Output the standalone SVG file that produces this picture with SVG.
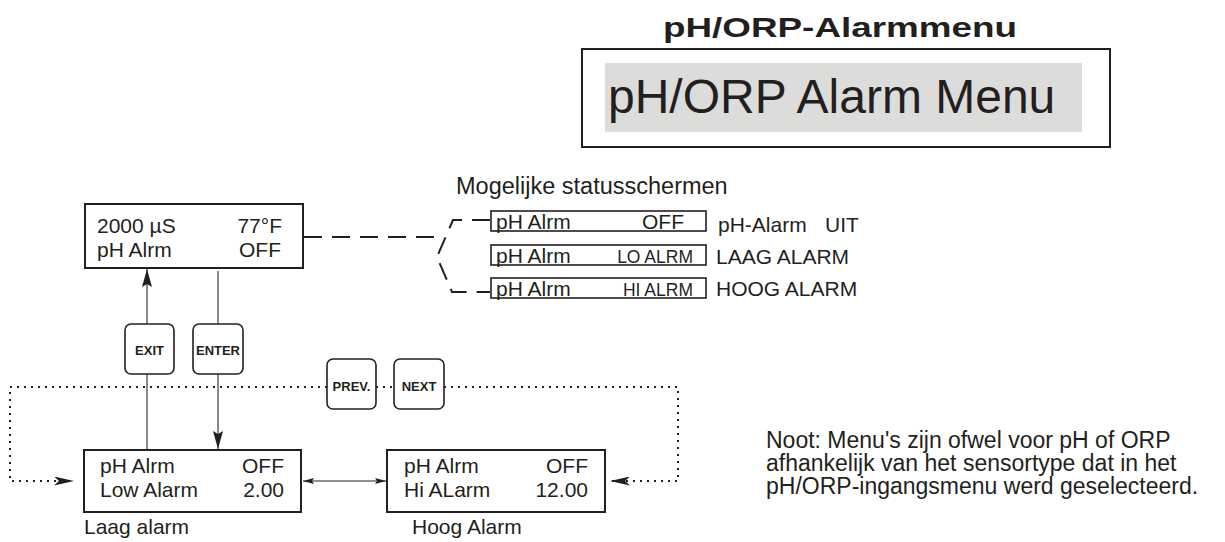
<svg xmlns="http://www.w3.org/2000/svg" width="1225" height="542" viewBox="0 0 1225 542">
<style>
text{font-family:"Liberation Sans",Arial,sans-serif;fill:#231f20}
.box{fill:#fff;stroke:#231f20;stroke-width:2}
.sbox{fill:#fff;stroke:#231f20;stroke-width:1.6}
.btn{fill:#fff;stroke:#231f20;stroke-width:1.6}
.lcd{font-size:21px}
.small{font-size:17.5px}
.btxt{font-size:13px;font-weight:bold;text-anchor:middle}
.lbl{font-size:21px}
.note{font-size:23px}
.gray{stroke:#8a8a8a;stroke-width:2;fill:none}
.dash{stroke:#231f20;stroke-width:2;fill:none;stroke-dasharray:18 10}
.dot{stroke:#231f20;stroke-width:2;fill:none;stroke-dasharray:2 5}
.thin{stroke:#231f20;stroke-width:1.2;fill:none}
.end{text-anchor:end}
</style>
<defs>
<marker id="ahBig" viewBox="0 0 18 10" refX="18" refY="5" markerWidth="18" markerHeight="10" markerUnits="userSpaceOnUse" orient="auto">
<path d="M0,0 L18,5 L0,10 L3,5 z" fill="#231f20"/>
</marker>
<marker id="ahDot" viewBox="0 0 20 9" refX="20" refY="4.5" markerWidth="20" markerHeight="9" markerUnits="userSpaceOnUse" orient="auto">
<path d="M0,0 L20,4.5 L0,9 L5,4.5 z" fill="#231f20"/>
</marker>
<marker id="ahSm" viewBox="0 0 11 6" refX="11" refY="3" markerWidth="11" markerHeight="6" markerUnits="userSpaceOnUse" orient="auto-start-reverse">
<path d="M0,0 L11,3 L0,6 L2,3 z" fill="#231f20"/>
</marker>
</defs>

<g id="title">
<text x="663" y="37" font-size="28" font-weight="bold" textLength="354" lengthAdjust="spacingAndGlyphs">pH/ORP-Alarmmenu</text>
</g>

<g id="menu-header">
<rect x="582" y="49" width="528" height="98" fill="#fff" stroke="#231f20" stroke-width="2"/>
<rect x="605" y="63" width="477" height="69" fill="#dcdcdb"/>
<text x="608" y="113" font-size="48">pH/ORP Alarm Menu</text>
</g>

<g id="connectors">
<line class="gray" x1="147" y1="324" x2="147" y2="269" marker-end="url(#ahBig)"/>
<line class="gray" x1="218" y1="271" x2="218" y2="324"/>
<line class="gray" x1="147" y1="374" x2="147" y2="450"/>
<line class="gray" x1="218" y1="374" x2="218" y2="449" marker-end="url(#ahBig)"/>
<line class="dash" x1="304" y1="237" x2="437" y2="237"/>
<path class="dash" d="M490,220 H453 L437,257 L452,292 H490"/>
<path class="dot" d="M327,387 H10 V481 H74" marker-end="url(#ahDot)"/>
<line class="dot" x1="376" y1="387" x2="394" y2="387"/>
<path class="dot" d="M444,387 H678 V481 H610" marker-end="url(#ahDot)"/>
<line class="thin" x1="303" y1="481" x2="386" y2="481" marker-start="url(#ahSm)" marker-end="url(#ahSm)"/>
</g>

<g id="status-screen">
<rect class="box" x="85" y="204" width="218" height="64"/>
<text class="lcd" x="97" y="233">2000 µS</text>
<text class="lcd end" x="282" y="233">77°F</text>
<text class="lcd" x="97" y="257">pH Alrm</text>
<text class="lcd end" x="281" y="257">OFF</text>
</g>

<g id="status-options">
<text x="456" y="194" font-size="23.5">Mogelijke statusschermen</text>
<rect class="sbox" x="491" y="211" width="215" height="20"/>
<text class="lcd" x="496" y="229">pH Alrm</text>
<text class="lcd end" x="684" y="229">OFF</text>
<text class="lbl" x="718" y="232">pH-Alarm<tspan x="825">UIT</tspan></text>
<rect class="sbox" x="491" y="245" width="215" height="20"/>
<text class="lcd" x="496" y="263">pH Alrm</text>
<text class="small end" x="693" y="263">LO ALRM</text>
<text class="lbl" x="716" y="264">LAAG ALARM</text>
<rect class="sbox" x="491" y="278" width="215" height="20"/>
<text class="lcd" x="496" y="296">pH Alrm</text>
<text class="small end" x="693" y="296">HI ALRM</text>
<text class="lbl" x="716" y="296">HOOG ALARM</text>
</g>

<g id="btn-exit">
<rect class="btn" x="125" y="324" width="49" height="50" rx="6"/>
<text class="btxt" x="149.5" y="355">EXIT</text>
</g>
<g id="btn-enter">
<rect class="btn" x="193" y="324" width="50" height="50" rx="6"/>
<text class="btxt" x="218" y="355" textLength="44" lengthAdjust="spacingAndGlyphs">ENTER</text>
</g>
<g id="btn-prev">
<rect class="btn" x="327" y="359" width="49" height="50" rx="6"/>
<text class="btxt" x="351.5" y="391">PREV.</text>
</g>
<g id="btn-next">
<rect class="btn" x="394" y="359" width="50" height="50" rx="6"/>
<text class="btxt" x="419" y="391">NEXT</text>
</g>

<g id="low-alarm">
<rect class="box" x="84" y="450" width="217" height="62"/>
<text class="lcd" x="100" y="473">pH Alrm</text>
<text class="lcd end" x="284" y="473">OFF</text>
<text class="lcd" x="100" y="497">Low Alarm</text>
<text class="lcd end" x="284" y="497">2.00</text>
<text class="lbl" x="84" y="534">Laag alarm</text>
</g>

<g id="high-alarm">
<rect class="box" x="387" y="450" width="218" height="62"/>
<text class="lcd" x="404" y="473">pH Alrm</text>
<text class="lcd end" x="588" y="473">OFF</text>
<text class="lcd" x="404" y="497">Hi ALarm</text>
<text class="lcd end" x="588" y="497">12.00</text>
<text class="lbl" x="412" y="534">Hoog Alarm</text>
</g>

<g id="note">
<text class="note" x="766" y="448">Noot: Menu's zijn ofwel voor pH of ORP</text>
<text class="note" x="766" y="471">afhankelijk van het sensortype dat in het</text>
<text class="note" x="766" y="494">pH/ORP-ingangsmenu werd geselecteerd.</text>
</g>
</svg>
